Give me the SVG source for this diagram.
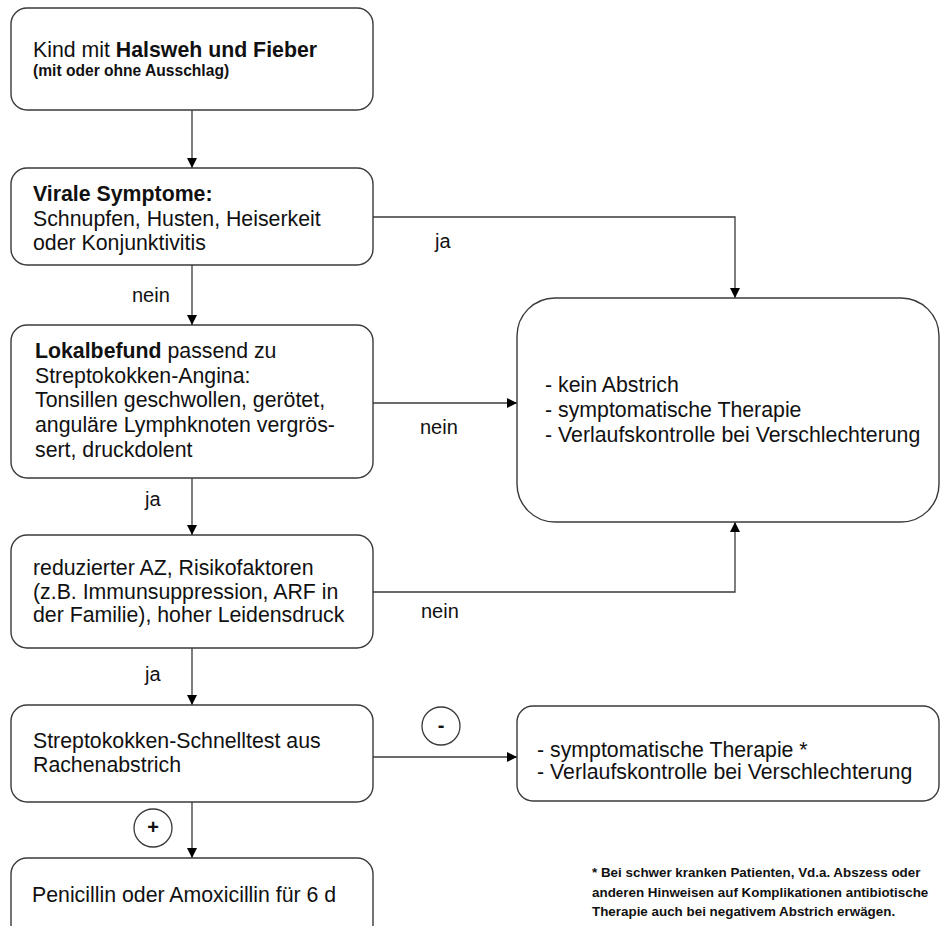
<svg xmlns="http://www.w3.org/2000/svg" width="946" height="926" viewBox="0 0 946 926">
<style>
.box{fill:#fff;stroke:#3a3a3a;stroke-width:1.4}
.t{font-family:"Liberation Sans",Arial,sans-serif;font-size:21.3px;fill:#111}
.b{font-weight:bold}
.s{font-family:"Liberation Sans",Arial,sans-serif;font-size:15.6px;font-weight:bold;fill:#111}
.fn{font-family:"Liberation Sans",Arial,sans-serif;font-size:13.4px;font-weight:bold;fill:#111}
.lbl{font-family:"Liberation Sans",Arial,sans-serif;font-size:20px;fill:#111}
.c{fill:none;stroke:#3a3a3a;stroke-width:1.3}
.circ{fill:#fff;stroke:#3a3a3a;stroke-width:1.3}
</style>
<defs>
<marker id="arr" viewBox="0 0 10 10" refX="10" refY="5" markerWidth="10" markerHeight="10" markerUnits="userSpaceOnUse" orient="auto">
<path d="M0,0 L10,5 L0,10 z" fill="#000"/>
</marker>
</defs>
<rect width="946" height="926" fill="#fff"/>

<g id="connectors">
<line class="c" x1="192" y1="110" x2="192" y2="168" marker-end="url(#arr)"/>
<polyline class="c" points="373,217 735,217 735,298" marker-end="url(#arr)"/>
<line class="c" x1="192" y1="265" x2="192" y2="325" marker-end="url(#arr)"/>
<line class="c" x1="373" y1="403" x2="517" y2="403" marker-end="url(#arr)"/>
<line class="c" x1="192" y1="478" x2="192" y2="535" marker-end="url(#arr)"/>
<polyline class="c" points="373,592 735,592 735,522" marker-end="url(#arr)"/>
<line class="c" x1="192" y1="648" x2="192" y2="705" marker-end="url(#arr)"/>
<line class="c" x1="373" y1="757" x2="517" y2="757" marker-end="url(#arr)"/>
<line class="c" x1="192" y1="802" x2="192" y2="858" marker-end="url(#arr)"/>
<text class="lbl" x="435" y="248">ja</text>
<text class="lbl" x="132" y="302">nein</text>
<text class="lbl" x="420" y="434">nein</text>
<text class="lbl" x="145" y="506">ja</text>
<text class="lbl" x="421" y="618">nein</text>
<text class="lbl" x="145" y="681">ja</text>
<g id="neg">
<circle class="circ" cx="441" cy="726" r="19"/>
<text class="lbl" x="441" y="732" text-anchor="middle" font-size="16" font-weight="bold">-</text>
</g>
<g id="pos">
<circle class="circ" cx="153" cy="828" r="19"/>
<text class="lbl" x="153" y="834" text-anchor="middle" font-size="16" font-weight="bold">+</text>
</g>
</g>

<g id="start">
<rect class="box" x="11" y="8" width="362" height="102" rx="16"/>
<text class="t" x="33" y="57">Kind mit <tspan class="b">Halsweh und Fieber</tspan></text>
<text class="s" x="33" y="76">(mit oder ohne Ausschlag)</text>
</g>

<g id="viral">
<rect class="box" x="11" y="168" width="362" height="97" rx="16"/>
<text class="t b" x="33" y="201">Virale Symptome:</text>
<text class="t" x="33" y="226">Schnupfen, Husten, Heiserkeit</text>
<text class="t" x="33" y="250">oder Konjunktivitis</text>
</g>

<g id="lokal">
<rect class="box" x="11" y="325" width="362" height="153" rx="16"/>
<text class="t" x="35" y="358"><tspan class="b">Lokalbefund</tspan> passend zu</text>
<text class="t" x="35" y="383">Streptokokken-Angina:</text>
<text class="t" x="35" y="407">Tonsillen geschwollen, gerötet,</text>
<text class="t" x="35" y="432">anguläre Lymphknoten vergrös-</text>
<text class="t" x="35" y="457">sert, druckdolent</text>
</g>

<g id="risk">
<rect class="box" x="11" y="535" width="362" height="113" rx="16"/>
<text class="t" x="33" y="575">reduzierter AZ, Risikofaktoren</text>
<text class="t" x="33" y="599">(z.B. Immunsuppression, ARF in</text>
<text class="t" x="33" y="622">der Familie), hoher Leidensdruck</text>
</g>

<g id="test">
<rect class="box" x="11" y="705" width="362" height="97" rx="16"/>
<text class="t" x="33" y="748">Streptokokken-Schnelltest aus</text>
<text class="t" x="33" y="772">Rachenabstrich</text>
</g>

<g id="penicillin">
<rect class="box" x="11" y="858" width="362" height="90" rx="16"/>
<text class="t" x="32" y="902">Penicillin oder Amoxicillin für 6 d</text>
</g>

<g id="noswab">
<rect class="box" x="517" y="298" width="422" height="224" rx="38"/>
<text class="t" x="545" y="392">- kein Abstrich</text>
<text class="t" x="545" y="417">- symptomatische Therapie</text>
<text class="t" x="545" y="442">- Verlaufskontrolle bei Verschlechterung</text>
</g>

<g id="symptomatic">
<rect class="box" x="517" y="706" width="422" height="95" rx="16"/>
<text class="t" x="537" y="757">- symptomatische Therapie *</text>
<text class="t" x="537" y="779">- Verlaufskontrolle bei Verschlechterung</text>
</g>

<g id="footnote">
<text class="fn" x="592" y="877">* Bei schwer kranken Patienten, Vd.a. Abszess oder</text>
<text class="fn" x="592" y="897">anderen Hinweisen auf Komplikationen antibiotische</text>
<text class="fn" x="592" y="916">Therapie auch bei negativem Abstrich erwägen.</text>
</g>
</svg>
